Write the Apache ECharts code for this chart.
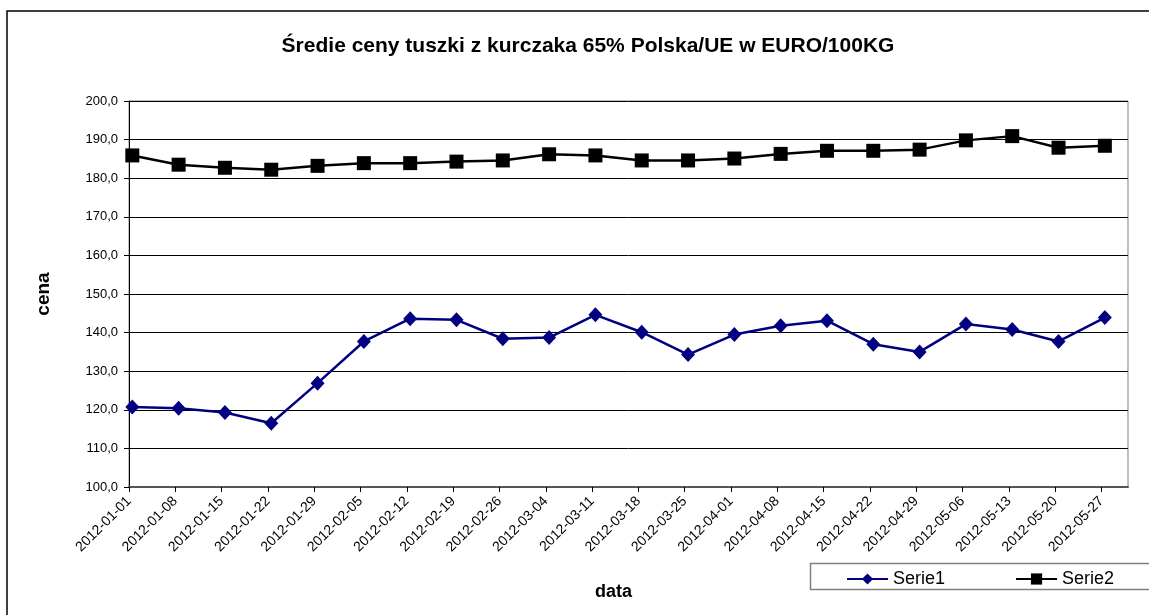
<!DOCTYPE html>
<html>
<head>
    <meta charset="UTF-8">
    <title>Średie ceny tuszki z kurczaka</title>
    <script src="https://cdn.jsdelivr.net/npm/echarts@6/dist/echarts.min.js"></script>
    <style type="text/css">
    * {
        margin: 0;
        padding: 0;
    }
    body {
        background-color: #fff;
    }
    #chart {
        width: 1149px;
        height: 615px;
    }
    </style>
</head>
<body>
    <div id="chart"></div>
    <script>
        // dane
        var dates = ['2012-01-01', '2012-01-08', '2012-01-15', '2012-01-22', '2012-01-29', '2012-02-05',
            '2012-02-12', '2012-02-19', '2012-02-26', '2012-03-04', '2012-03-11', '2012-03-18',
            '2012-03-25', '2012-04-01', '2012-04-08', '2012-04-15', '2012-04-22', '2012-04-29',
            '2012-05-06', '2012-05-13', '2012-05-20', '2012-05-27'];
        var serie1 = [120.7, 120.4, 119.3, 116.5, 126.9, 137.7, 143.6, 143.3, 138.4, 138.7, 144.6, 140.1,
            134.3, 139.5, 141.8, 143.1, 137.0, 135.0, 142.2, 140.8, 137.7, 143.9];
        var serie2 = [185.9, 183.5, 182.7, 182.2, 183.2, 183.9, 183.9, 184.3, 184.6, 186.2, 185.9, 184.6,
            184.6, 185.1, 186.3, 187.1, 187.1, 187.4, 189.8, 190.9, 187.9, 188.4];
        var axisStart = '2012-01-01';
        var axisEnd = '2012-05-31';

        // dzien liczony od poczatku osi
        function dayOf(d) {
            return (Date.parse(d) - Date.parse(axisStart)) / 86400000;
        }
        var tickDays = dates.map(dayOf);
        var labelByDay = {};
        dates.forEach(function (d) { labelByDay[dayOf(d)] = d; });

        // punkty w srodku dnia, jak w Excelu
        function pts(vals) {
            return vals.map(function (v, i) { return [dayOf(dates[i]) + 0.5, v]; });
        }

        var font = 'Arial, "Liberation Sans", sans-serif';
        var chart = echarts.init(document.getElementById('chart'), null, {renderer: 'canvas'});

        chart.setOption({
            animation: false,
            backgroundColor: '#fff',
            title: {
                text: 'Średie ceny tuszki z kurczaka 65% Polska/UE w EURO/100KG',
                left: 583,
                textAlign: 'center',
                top: 31,
                textStyle: {fontFamily: font, fontSize: 21, fontWeight: 'bold', color: '#000'}
            },
            legend: {
                left: 846,
                top: 570,
                padding: 0,
                itemGap: 70,
                itemWidth: 41,
                itemHeight: 14,
                textStyle: {fontFamily: font, fontSize: 18, color: '#000'},
                data: ['Serie1', 'Serie2']
            },
            graphic: [{
                type: 'rect',
                silent: true,
                shape: {x: 7, y: 11, width: 1180, height: 640},
                style: {fill: 'none', stroke: '#000', lineWidth: 1.5}
            }, {
                // ramka legendy
                type: 'rect',
                silent: true,
                shape: {x: 810.5, y: 563.5, width: 400, height: 26},
                style: {fill: '#fff', stroke: '#808080', lineWidth: 1.5},
                z: -1
            }],
            grid: {
                left: 129,
                top: 101,
                right: 21,
                bottom: 128,
                show: true,
                borderColor: '#808080',
                borderWidth: 1,
                containLabel: false,
                outerBoundsMode: 'none'
            },
            xAxis: {
                type: 'value',
                min: 0,
                max: dayOf(axisEnd),
                name: 'data',
                nameLocation: 'middle',
                nameGap: 96,
                nameTextStyle: {fontFamily: font, fontSize: 18, fontWeight: 'bold', color: '#000', padding: [0, 30, 0, 0]},
                axisLine: {lineStyle: {color: '#555', width: 2}},
                axisTick: {show: true, length: 5, lineStyle: {color: '#000'}, customValues: tickDays},
                splitLine: {show: false},
                axisLabel: {
                    customValues: tickDays,
                    rotate: 45,
                    margin: 12,
                    fontFamily: font,
                    fontSize: 14,
                    color: '#000',
                    formatter: function (v) { return labelByDay[v] || ''; }
                }
            },
            yAxis: {
                type: 'value',
                min: 100,
                max: 200,
                interval: 10,
                name: 'cena',
                nameLocation: 'middle',
                nameRotate: 90,
                nameGap: 76,
                nameTextStyle: {fontFamily: font, fontSize: 19, fontWeight: 'bold', color: '#000'},
                axisLine: {show: true, lineStyle: {color: '#000', width: 1}},
                axisTick: {show: true, length: 5, lineStyle: {color: '#000'}},
                splitLine: {show: true, lineStyle: {color: '#000', width: 1}},
                axisLabel: {
                    margin: 11,
                    fontFamily: font,
                    fontSize: 13,
                    color: '#000',
                    formatter: function (v) { return v.toFixed(1).replace('.', ','); }
                }
            },
            series: [
                {
                    name: 'Serie1',
                    type: 'line',
                    data: pts(serie1),
                    symbol: 'diamond',
                    symbolSize: [14, 15],
                    color: '#000080',
                    lineStyle: {color: '#000080', width: 2.5},
                    itemStyle: {color: '#000080'}
                },
                {
                    name: 'Serie2',
                    type: 'line',
                    data: pts(serie2),
                    symbol: 'rect',
                    symbolSize: 14,
                    color: '#000',
                    lineStyle: {color: '#000', width: 2.5},
                    itemStyle: {color: '#000'}
                }
            ]
        });
    </script>
</body>
</html>
